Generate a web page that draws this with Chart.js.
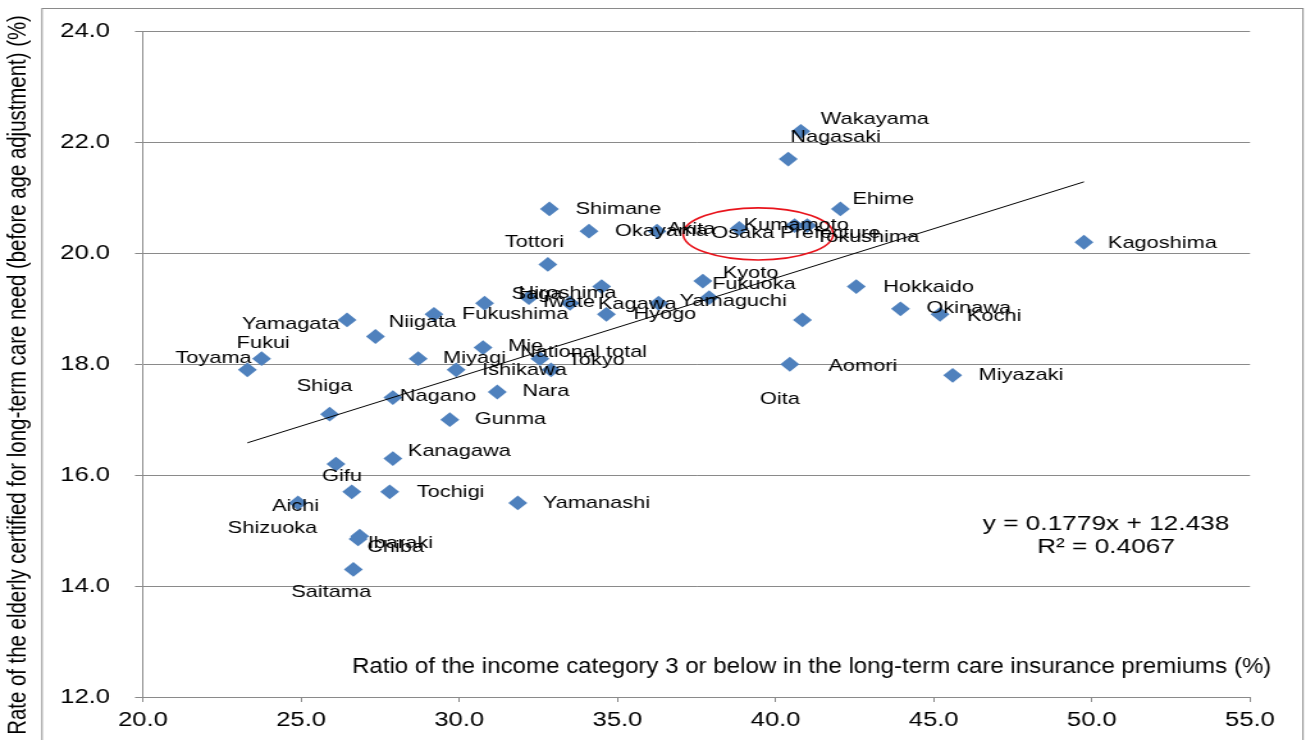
<!DOCTYPE html>
<html>
<head>
<meta charset="utf-8">
<title>Long-term care certification rate vs. premium income category</title>
<script src="https://cdn.jsdelivr.net/npm/chart.js@4.4.1/dist/chart.umd.min.js"></script>
<style>
  html, body { margin: 0; padding: 0; background: #ffffff; overflow: hidden; }
  canvas { display: block; }
</style>
</head>
<body>
<canvas id="chart" width="1020" height="740" style="width:1306px;height:740px"></canvas>
<script>
// ---- data -------------------------------------------------------------
const prefectures = [
  'Hokkaido', 'Aomori', 'Iwate', 'Miyagi', 'Akita', 'Yamagata', 'Fukushima',
  'Ibaraki', 'Tochigi', 'Gunma', 'Saitama', 'Chiba', 'Tokyo', 'Kanagawa',
  'Niigata', 'Toyama', 'Ishikawa', 'Fukui', 'Yamanashi', 'Nagano', 'Gifu',
  'Shizuoka', 'Aichi', 'Mie', 'Shiga', 'Kyoto', 'Osaka Prefecture', 'Hyogo',
  'Nara', 'Wakayama', 'Tottori', 'Shimane', 'Okayama', 'Hiroshima',
  'Yamaguchi', 'Tokushima', 'Kagawa', 'Ehime', 'Kochi', 'Fukuoka', 'Saga',
  'Nagasaki', 'Kumamoto', 'Oita', 'Miyazaki', 'Kagoshima', 'Okinawa',
  'National total'
];

// Ratio of income category 3 or below in LTC insurance premiums (%)
const premiumRatio = [
  42.55, 40.85, 32.2, 28.7, 36.25, 26.45, 29.2,
  26.85, 27.8, 29.7, 26.65, 26.8, 32.55, 27.9,
  27.35, 23.3, 29.9, 23.75, 31.85, 27.9, 26.1,
  26.6, 24.9, 30.75, 25.9, 37.7, 38.85, 34.65,
  31.2, 40.8, 32.8, 32.85, 34.1, 34.5,
  36.3, 41.0, 33.5, 42.05, 45.2, 37.9, 30.8,
  40.4, 40.6, 40.45, 45.6, 49.75, 43.95,
  32.9
];

// Rate of the elderly certified for long-term care need (%)
const certifiedRate = [
  19.4, 18.8, 19.2, 18.1, 20.4, 18.8, 18.9,
  14.9, 15.7, 17.0, 14.3, 14.85, 18.1, 16.3,
  18.5, 17.9, 17.9, 18.1, 15.5, 17.4, 16.2,
  15.7, 15.5, 18.3, 17.1, 19.5, 20.45, 18.9,
  17.5, 22.2, 19.8, 20.8, 20.4, 19.4,
  19.1, 20.5, 19.1, 20.8, 18.9, 19.2, 19.1,
  21.7, 20.5, 18.0, 17.8, 20.2, 19.0,
  17.9
];

const xTickValues = [20, 25, 30, 35, 40, 45, 50, 55];
const yTickValues = [12, 14, 16, 18, 20, 22, 24];

// Linear trendline as reported on the chart
const trendSlope = 0.1779;
const trendIntercept = 12.438;
const rSquared = 0.4067;

const highlightedName = 'Osaka Prefecture';

// ---- label placement (screen pixels from each marker to the label's left edge) ----
const labelOffset = {
  'Hokkaido': [27, 1], 'Aomori': [26, 46], 'Iwate': [14, 5], 'Miyagi': [25, 0],
  'Akita': [10, -2], 'Yamagata': [-105, 4], 'Fukushima': [28, 0], 'Ibaraki': [8, 7],
  'Tochigi': [27, 1], 'Gunma': [25, 0], 'Saitama': [-62, 23], 'Chiba': [9, 8],
  'Tokyo': [28, 2], 'Kanagawa': [15, -7], 'Niigata': [13, -14], 'Toyama': [-72, -11],
  'Ishikawa': [26, 1], 'Fukui': [-25, -15], 'Yamanashi': [25, 0], 'Nagano': [7, -1],
  'Gifu': [-14, 12], 'Shizuoka': [-124, 37], 'Aichi': [-26, 3], 'Mie': [25, -1],
  'Shiga': [-33, -28], 'Kyoto': [20, -8], 'Osaka Prefecture': [-28, 5], 'Hyogo': [27, 0],
  'Nara': [25, -1], 'Wakayama': [20, -12], 'Tottori': [-43, -22], 'Shimane': [26, 0],
  'Okayama': [26, 0], 'Hiroshima': [-83, 7], 'Yamaguchi': [21, -2], 'Tokushima': [8, 12],
  'Kagawa': [28, 1], 'Ehime': [12, -10], 'Kochi': [27, 2], 'Fukuoka': [3, -13],
  'Saga': [27, -9], 'Nagasaki': [2, -22], 'Kumamoto': [-51, 0], 'Oita': [-30, 35],
  'Miyazaki': [26, 0], 'Kagoshima': [24, 1], 'Okinawa': [26, 0], 'National total': [-31, -17]
};

// ---- drawing setup --------------------------------------------------------
// The canvas is rendered narrower and widened by CSS, giving the wide glyphs.
const canvas = document.getElementById('chart');
const STRETCH = 1306 / canvas.width;
const FONT = '"Liberation Sans", Arial, sans-serif';
const GRID = '#8a8a8a';
const MARKER = '#4f81bd';

const points = premiumRatio.map((x, i) => ({ x: x, y: certifiedRate[i] }));
const xMin = Math.min(...premiumRatio);
const xMax = Math.max(...premiumRatio);
const trendPoints = [xMin, xMax].map(x => ({ x: x, y: trendSlope * x + trendIntercept }));

// Ring around the highlighted prefecture, in axis units
const hi = prefectures.indexOf(highlightedName);
const ring = { cx: premiumRatio[hi] + 0.6, cy: certifiedRate[hi] - 0.1, rx: 2.37, ry: 0.47 };

const decorations = {
  id: 'decorations',
  beforeDraw(chart) {
    const ctx = chart.ctx;
    ctx.save();
    ctx.strokeStyle = GRID;
    ctx.lineWidth = 1;
    ctx.strokeRect(42 / STRETCH, 8.5, (1303 - 42) / STRETCH, 800);
    ctx.restore();
  },
  afterDatasetsDraw(chart) {
    const ctx = chart.ctx;
    const xs = chart.scales.x, ys = chart.scales.y;
    const area = chart.chartArea;

    // highlight ring
    ctx.save();
    ctx.strokeStyle = '#e8141c';
    ctx.lineWidth = 1.6;
    ctx.beginPath();
    const ecx = xs.getPixelForValue(ring.cx), ecy = ys.getPixelForValue(ring.cy);
    const erx = Math.abs(xs.getPixelForValue(ring.cx + ring.rx) - ecx);
    const ery = Math.abs(ys.getPixelForValue(ring.cy + ring.ry) - ecy);
    ctx.ellipse(ecx, ecy, erx, ery, 0, 0, Math.PI * 2);
    ctx.stroke();
    ctx.restore();

    // point labels
    const meta = chart.getDatasetMeta(1);
    ctx.save();
    ctx.fillStyle = '#000';
    ctx.font = '17px ' + FONT;
    ctx.textAlign = 'left';
    ctx.textBaseline = 'middle';
    meta.data.forEach((el, i) => {
      const name = prefectures[i];
      const off = labelOffset[name] || [26, 0];
      ctx.fillText(name, el.x + off[0] / STRETCH, el.y + off[1]);
    });
    ctx.restore();

    // regression equation
    ctx.save();
    ctx.fillStyle = '#000';
    ctx.font = '20.5px ' + FONT;
    ctx.textAlign = 'center';
    ctx.textBaseline = 'middle';
    const eqX = 1106 / STRETCH;
    const sign = trendIntercept >= 0 ? '+' : '-';
    ctx.fillText('y = ' + trendSlope.toFixed(4) + 'x ' + sign + ' ' + Math.abs(trendIntercept).toFixed(3), eqX, 524);
    ctx.fillText('R\u00B2 = ' + rSquared.toFixed(4), eqX, 547);
    ctx.restore();

    // x-axis title, set inside the plot above the axis
    ctx.save();
    ctx.fillStyle = '#000';
    ctx.font = '22.5px ' + FONT;
    ctx.textAlign = 'left';
    ctx.textBaseline = 'middle';
    ctx.translate(352 / STRETCH, area.bottom - 30);
    ctx.scale(1.07 / STRETCH, 1);
    ctx.fillText('Ratio of the income category 3 or below in the long-term care insurance premiums (%)', 0, 0);
    ctx.restore();

    // y-axis title
    ctx.save();
    ctx.fillStyle = '#000';
    ctx.font = '20.4px ' + FONT;
    ctx.textAlign = 'center';
    ctx.textBaseline = 'middle';
    ctx.translate(18 / STRETCH, 375);
    ctx.rotate(-Math.PI / 2);
    ctx.fillText('Rate of the elderly certified for long-term care need (before age adjustment) (%)', 0, 0);
    ctx.restore();
  }
};

new Chart(canvas, {
  data: {
    datasets: [
      {
        type: 'line',
        label: 'Linear trend',
        data: trendPoints,
        borderColor: '#000000',
        borderWidth: 1,
        pointRadius: 0,
        fill: false,
        tension: 0
      },
      {
        type: 'scatter',
        label: 'Prefectures',
        data: points,
        pointStyle: 'rectRot',
        pointRadius: 7.4,
        pointHoverRadius: 7.4,
        backgroundColor: MARKER,
        borderColor: MARKER,
        borderWidth: 0
      }
    ]
  },
  options: {
    responsive: false,
    animation: false,
    devicePixelRatio: 1,
    events: [],
    layout: { padding: { top: 30, left: 0, right: 1020 - 1250 / STRETCH, bottom: 0 } },
    plugins: { legend: { display: false }, tooltip: { enabled: false } },
    scales: {
      x: {
        type: 'linear',
        min: xTickValues[0],
        max: xTickValues[xTickValues.length - 1],
        afterBuildTicks: s => { s.ticks = xTickValues.map(v => ({ value: v })); },
        afterFit: s => { s.height = 740 - 697; },
        ticks: {
          callback: v => Number(v).toFixed(1),
          font: { family: FONT, size: 20 },
          color: '#000',
          padding: 6,
          maxRotation: 0,
          autoSkip: false
        },
        grid: { drawOnChartArea: false, drawTicks: true, tickLength: 5, color: GRID, lineWidth: 1 },
        border: { display: true, color: GRID, width: 1 }
      },
      y: {
        type: 'linear',
        min: yTickValues[0],
        max: yTickValues[yTickValues.length - 1],
        afterBuildTicks: s => { s.ticks = yTickValues.map(v => ({ value: v })); },
        afterFit: s => { s.width = 143 / STRETCH; },
        ticks: {
          callback: v => Number(v).toFixed(1),
          font: { family: FONT, size: 20 },
          color: '#000',
          padding: 19.5
        },
        grid: { drawTicks: true, tickLength: 8 / STRETCH, color: GRID, lineWidth: 1 },
        border: { display: true, color: GRID, width: 1 }
      }
    }
  },
  plugins: [decorations]
});
</script>
</body>
</html>
